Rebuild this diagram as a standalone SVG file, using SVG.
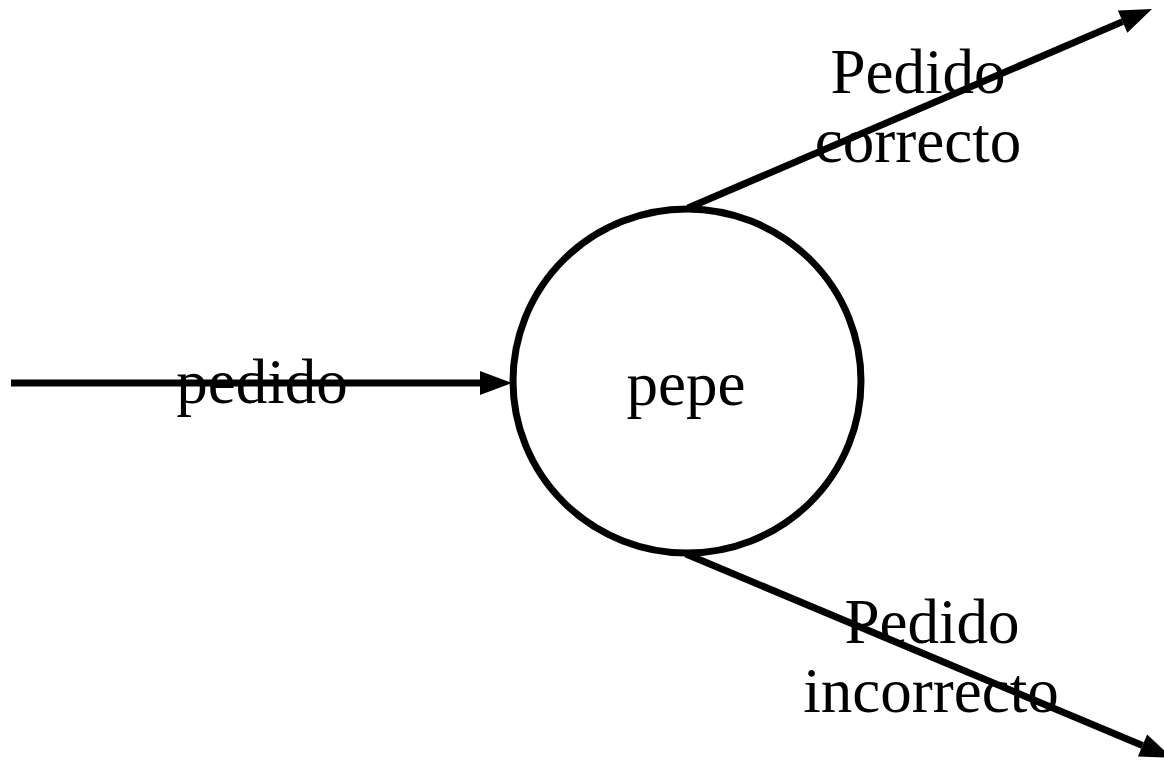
<svg xmlns="http://www.w3.org/2000/svg" width="1164" height="762" viewBox="0 0 1164 762">
<style>
.lbl{font-family:"Liberation Serif","Times New Roman",serif;font-size:63px;fill:#000;text-anchor:middle}
.conn{stroke:#000;stroke-width:7;fill:none}
</style>
<defs>
<marker id="ah" markerUnits="userSpaceOnUse" markerWidth="34" markerHeight="24" viewBox="0 0 34 24" refX="0" refY="12" orient="auto" overflow="visible">
<path d="M0,0 L32,12 L0,24 z" fill="#000"/>
</marker>
</defs>
<rect width="1164" height="762" fill="#fff"/>
<g id="node-pepe">
<ellipse cx="687" cy="381" rx="174" ry="172" fill="#fff" stroke="#000" stroke-width="7"/>
<text class="lbl" x="686" y="405">pepe</text>
</g>
<g id="connectors">
<line class="conn" x1="11" y1="383" x2="480" y2="383" marker-end="url(#ah)"/>
<line class="conn" x1="688" y1="208" x2="1122.6" y2="21.6" marker-end="url(#ah)"/>
<line class="conn" x1="686" y1="554" x2="1142.5" y2="745.5" marker-end="url(#ah)"/>
</g>
<g id="labels">
<text class="lbl" x="262" y="403">pedido</text>
<text class="lbl" x="918" y="93">Pedido</text>
<text class="lbl" x="918" y="162">correcto</text>
<text class="lbl" x="932" y="643">Pedido</text>
<text class="lbl" x="931" y="712">incorrecto</text>
</g>
</svg>
